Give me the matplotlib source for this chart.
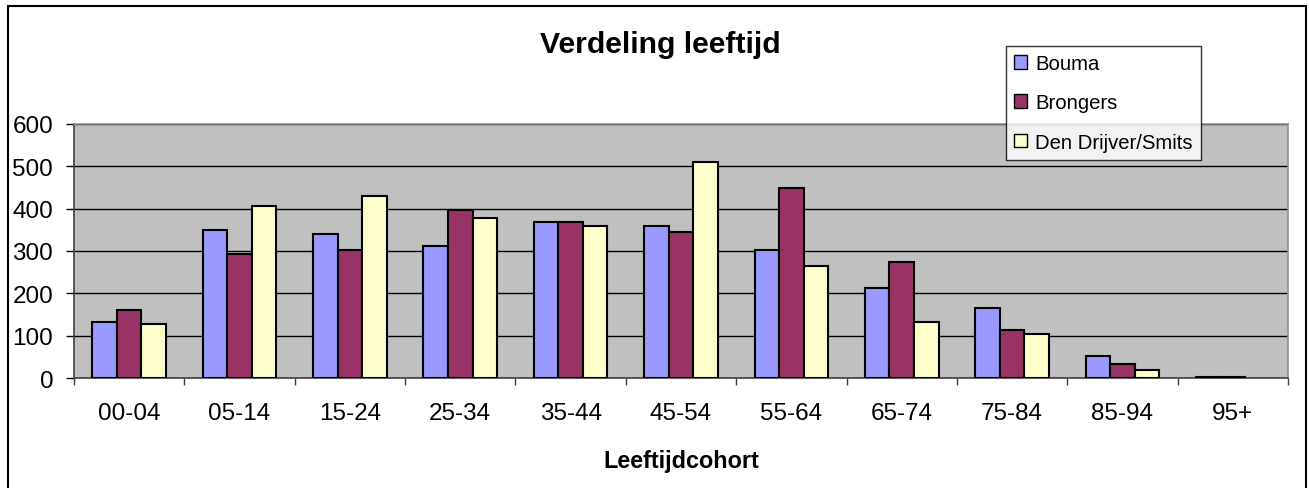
import matplotlib
matplotlib.use("Agg")
import matplotlib.pyplot as plt
import numpy as np
from matplotlib.patches import Rectangle
from matplotlib.ticker import FixedLocator, MultipleLocator

categories = ["00-04", "05-14", "15-24", "25-34", "35-44", "45-54",
              "55-64", "65-74", "75-84", "85-94", "95+"]
series_names = ["Bouma", "Brongers", "Den Drijver/Smits"]
bouma = [132, 349, 341, 312, 368, 360, 302, 213, 166, 52, 3]
brongers = [160, 294, 303, 397, 368, 345, 450, 274, 114, 33, 3]
drijver = [128, 407, 431, 378, 360, 511, 265, 132, 104, 20, 0]
colors = ["#9999FF", "#993366", "#FFFFCC"]

plt.rcParams['font.family'] = ['Liberation Sans', 'DejaVu Sans']

W, H = 1309, 489
fig = plt.figure(figsize=(W / 100, H / 100), dpi=100)
ax = fig.add_axes([74 / W, 1 - 379 / H, (1288 - 74) / W, (379 - 125) / H])

# outer chart border
fig.patches.append(Rectangle((8 / W, -0.05), (1306 - 8) / W, 1 - 7 / H + 0.05,
                             transform=fig.transFigure, fill=False,
                             edgecolor="black", linewidth=1.5))

ax.set_facecolor("#C0C0C0")
x = np.arange(len(categories))
bw = 1 / 4.5
for k, (vals, col, name) in enumerate(zip([bouma, brongers, drijver], colors, series_names)):
    lws = [1.5 if v > 0 else 0 for v in vals]
    ax.bar(x + (k - 1) * bw, vals, width=bw, color=col, edgecolor="black",
           linewidth=lws, label=name, zorder=3)

ax.set_xlim(-0.5, len(categories) - 0.5)
ax.set_ylim(0, 600)
ax.yaxis.set_major_locator(MultipleLocator(100))
ax.grid(axis="y", color="black", linewidth=1.0, zorder=1)
ax.set_axisbelow(True)

ax.set_xticks(x)
ax.set_xticklabels(categories, fontsize=17.5)
ax.tick_params(axis="x", which="major", length=0, pad=17)
ax.xaxis.set_minor_locator(FixedLocator(np.arange(-0.5, len(categories), 1.0)))
ax.tick_params(axis="x", which="minor", length=5, width=1, color="#404040", direction="out")
ax.tick_params(axis="y", length=6, width=1, color="black", pad=9, labelsize=17.5)

for s in ["top", "right"]:
    ax.spines[s].set_color("#909090")
    ax.spines[s].set_linewidth(1.2)
for s in ["left", "bottom"]:
    ax.spines[s].set_color("#404040")
    ax.spines[s].set_linewidth(1.2)

fig.text(660 / W, 1 - 45 / H, "Verdeling leeftijd", fontsize=21.7, fontweight="bold",
         ha="center", va="center")
fig.text(681 / W, 1 - 462 / H, "Leeftijdcohort", fontsize=16.8, fontweight="bold",
         ha="center", va="center")

leg = fig.legend(loc="upper left", bbox_to_anchor=(1006 / W, 1 - 47 / H),
                 fontsize=14.6, frameon=True, fancybox=False, edgecolor="black",
                 handlelength=0.65, handleheight=0.65, handletextpad=0.4,
                 labelspacing=1.0, borderpad=0.4, borderaxespad=0)
leg.get_frame().set_linewidth(1.0)
for h in leg.legend_handles:
    h.set_linewidth(1.0)

fig.savefig("out.png", dpi=100)
